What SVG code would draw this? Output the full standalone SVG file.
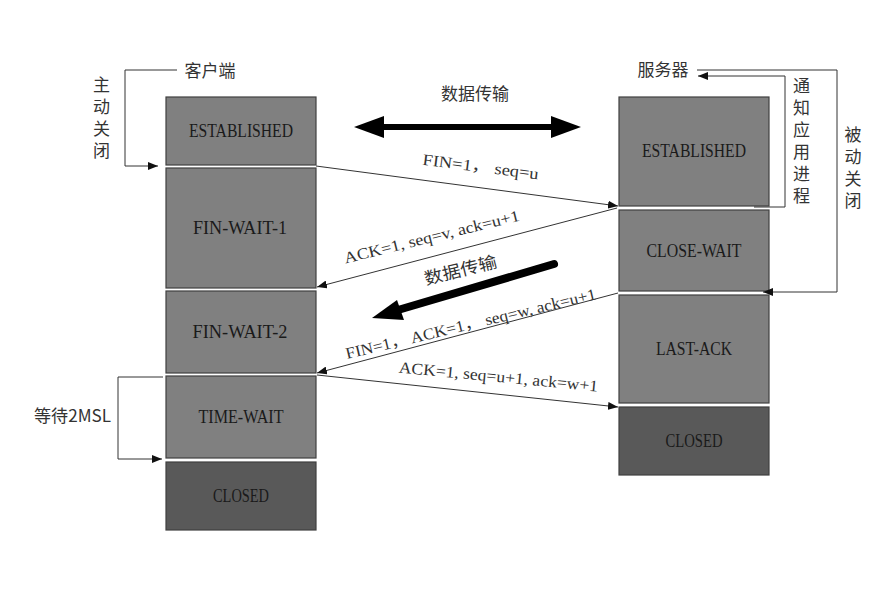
<svg xmlns="http://www.w3.org/2000/svg" width="893" height="603" viewBox="0 0 893 603">
<defs>
<style>
.box{fill:#808080;stroke:#404040;stroke-width:1.2}
.closed{fill:#595959;stroke:#404040;stroke-width:1.2}
.st{font-family:"Liberation Serif","Noto Sans CJK SC",serif;font-size:18px;fill:#1a1a1a;text-anchor:middle}
.lbl{font-family:"Noto Sans CJK SC",sans-serif;font-size:17px;fill:#333;text-anchor:middle}
.vt{font-family:"Noto Sans CJK SC",sans-serif;font-size:17px;fill:#333;writing-mode:tb;letter-spacing:5px}
.msg{font-family:"Liberation Serif","Noto Sans CJK SC",serif;font-size:16px;fill:#333;text-anchor:middle}
.ln{fill:none;stroke:#333;stroke-width:1}
</style>
<marker id="ah" viewBox="0 0 10 8" refX="10" refY="4" markerWidth="10" markerHeight="8" markerUnits="userSpaceOnUse" orient="auto">
<path d="M0,0 L10,4 L0,8 Z" fill="#111"/>
</marker>
</defs>

<g id="client-established"><rect class="box" x="166" y="97" width="150" height="68"/><text class="st" x="241" y="137" textLength="104" lengthAdjust="spacingAndGlyphs">ESTABLISHED</text></g>
<g id="fin-wait-1"><rect class="box" x="166" y="168" width="150" height="120"/><text class="st" x="240" y="234" textLength="94" lengthAdjust="spacingAndGlyphs">FIN-WAIT-1</text></g>
<g id="fin-wait-2"><rect class="box" x="166" y="291" width="150" height="82"/><text class="st" x="240" y="338" textLength="95" lengthAdjust="spacingAndGlyphs">FIN-WAIT-2</text></g>
<g id="time-wait"><rect class="box" x="166" y="376" width="150" height="82"/><text class="st" x="241" y="423" textLength="85" lengthAdjust="spacingAndGlyphs">TIME-WAIT</text></g>
<g id="client-closed"><rect class="closed" x="166" y="462" width="150" height="68"/><text class="st" x="241" y="502" textLength="56" lengthAdjust="spacingAndGlyphs">CLOSED</text></g>

<g id="server-established"><rect class="box" x="619" y="97" width="150" height="109"/><text class="st" x="694" y="157" textLength="104" lengthAdjust="spacingAndGlyphs">ESTABLISHED</text></g>
<g id="close-wait"><rect class="box" x="619" y="210" width="150" height="81"/><text class="st" x="694" y="257" textLength="95" lengthAdjust="spacingAndGlyphs">CLOSE-WAIT</text></g>
<g id="last-ack"><rect class="box" x="619" y="295" width="150" height="108"/><text class="st" x="694" y="355" textLength="76" lengthAdjust="spacingAndGlyphs">LAST-ACK</text></g>
<g id="server-closed"><rect class="closed" x="619" y="407" width="150" height="68"/><text class="st" x="694" y="447" textLength="57" lengthAdjust="spacingAndGlyphs">CLOSED</text></g>

<g id="labels">
<text class="lbl" x="210" y="77" font-size="18">客户端</text>
<text class="lbl" x="663" y="76" font-size="18">服务器</text>
<text class="lbl" x="475" y="100" font-size="18">数据传输</text>
<text class="vt" x="101.5" y="76">主动关闭</text>
<text class="vt" x="801.5" y="77">通知应用进程</text>
<text class="vt" x="853" y="126">被动关闭</text>
<text class="lbl" x="72.5" y="422" font-family="'Liberation Serif','Noto Sans CJK SC',serif" font-size="18" textLength="77" lengthAdjust="spacingAndGlyphs">等待2MSL</text>
</g>

<g id="connectors">
<polyline class="ln" points="177,70 125,70 125,166 158,166" marker-end="url(#ah)"/>
<polyline class="ln" points="697,70 837,70 837,292 763,292" marker-end="url(#ah)"/>
<polyline class="ln" points="754,207 785,207 785,76 698,76" marker-end="url(#ah)"/>
<polyline class="ln" points="163,377 118,377 118,459 162,459" marker-end="url(#ah)"/>

<line class="ln" x1="316" y1="166" x2="618" y2="206" marker-end="url(#ah)"/>
<line class="ln" x1="617" y1="208" x2="317" y2="287" marker-end="url(#ah)"/>
<line class="ln" x1="618" y1="293" x2="317" y2="373" marker-end="url(#ah)"/>
<line class="ln" x1="317" y1="375" x2="618" y2="407" marker-end="url(#ah)"/>

<line x1="380" y1="127" x2="556" y2="127" stroke="#000" stroke-width="6"/>
<path d="M354,127 L384,116 L384,138 Z" fill="#000"/>
<path d="M581,127 L551,116 L551,138 Z" fill="#000"/>

<line x1="554" y1="264" x2="398" y2="310" stroke="#000" stroke-width="8" stroke-linecap="round"/>
<path d="M372,318 L397,300 L404,320 Z" fill="#000"/>
</g>

<g id="message-labels">
<text class="msg" transform="translate(480,172) rotate(7.2)" textLength="117" lengthAdjust="spacingAndGlyphs">FIN=1， seq=u</text>
<text class="msg" transform="translate(433,242) rotate(-13.8)" textLength="180" lengthAdjust="spacingAndGlyphs">ACK=1, seq=v, ack=u+1</text>
<text class="lbl" font-size="18" transform="translate(462,276) rotate(-14)" textLength="74" lengthAdjust="spacingAndGlyphs">数据传输</text>
<text class="msg" transform="translate(472,329) rotate(-13.5)" textLength="257" lengthAdjust="spacingAndGlyphs">FIN=1， ACK=1， seq=w, ack=u+1</text>
<text class="msg" transform="translate(498,382) rotate(5.5)" textLength="200" lengthAdjust="spacingAndGlyphs">ACK=1, seq=u+1, ack=w+1</text>
</g>
</svg>
